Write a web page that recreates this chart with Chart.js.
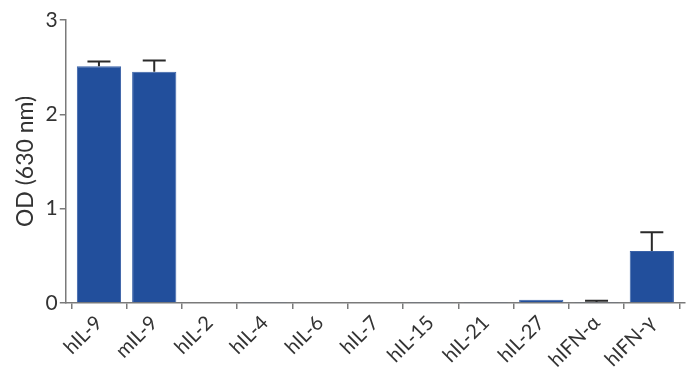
<!DOCTYPE html>
<html lang="en">
<head>
<meta charset="UTF-8">
<title>OD (630 nm)</title>
<script src="https://cdn.jsdelivr.net/npm/chart.js"></script>
<style>
    html, body { margin: 0; padding: 0; background: #fff; }
    #wrap { width: 700px; height: 378px; }
</style>
</head>
<body>
<div id="wrap"><canvas id="chart"></canvas></div>
<script>
    // data
    const categories = ['hIL-9', 'mIL-9', 'hIL-2', 'hIL-4', 'hIL-6', 'hIL-7', 'hIL-15', 'hIL-21', 'hIL-27', 'hIFN-α', 'hIFN-γ'];
    const odValues   = [2.51, 2.45, 0.0, 0.005, 0.0, 0.0, 0.005, 0.003, 0.032, 0.01, 0.55];
    const odErrors   = [0.05, 0.12, 0.0, 0.0, 0.0, 0.0, 0.0, 0.0, 0.0, 0.012, 0.2];
    const yTicks     = [0, 1, 2, 3];

    const axisGray = '#7a7a7a';
    const textCol = '#333';

    // upward error bars with cap
    const errorBars = {
        id: 'errorBars',
        afterDatasetsDraw(chart) {
            const ctx = chart.ctx;
            const xs = chart.scales.x, ys = chart.scales.y;
            ctx.save();
            ctx.strokeStyle = '#2a2a2a';
            ctx.lineWidth = 2;
            odValues.forEach((v, i) => {
                if (!odErrors[i]) return;
                const x = xs.getPixelForValue(i);
                const y0 = ys.getPixelForValue(v);
                const y1 = ys.getPixelForValue(v + odErrors[i]);
                ctx.beginPath();
                ctx.moveTo(x, y0);
                ctx.lineTo(x, y1);
                ctx.moveTo(x - 11.5, y1);
                ctx.lineTo(x + 11.5, y1);
                ctx.stroke();
            });
            ctx.restore();
        }
    };

    new Chart(document.getElementById('chart'), {
        type: 'bar',
        data: {
            datasets: [{
                data: odValues.map((v, i) => ({ x: i, y: v })),
                backgroundColor: '#224f9c',
                borderColor: '#3a62a8',
                borderWidth: 1,
                barPercentage: 0.8,
                categoryPercentage: 1.0
            }]
        },
        options: {
            responsive: true,
            maintainAspectRatio: false,
            animation: false,
            layout: { padding: { top: 20, right: 15, left: 12, bottom: 4 } },
            plugins: { legend: { display: false }, tooltip: { enabled: false } },
            scales: {
                x: {
                    type: 'linear',
                    min: -0.6,
                    max: 10.6,
                    offset: false,
                    afterBuildTicks: axis => { axis.ticks = categories.map((c, i) => ({ value: i })); },
                    // force the 45 degree slant of the labels
                    afterCalculateLabelRotation: axis => { axis.labelRotation = 45; },
                    ticks: {
                        callback: v => categories[v],
                        autoSkip: false,
                        color: textCol,
                        font: { family: 'Lato', size: 20 },
                        padding: 2
                    },
                    grid: { drawOnChartArea: false, drawTicks: true, tickLength: 6, color: axisGray, lineWidth: 1.5 },
                    border: { color: axisGray, width: 1.5 }
                },
                y: {
                    min: 0,
                    max: 3,
                    afterBuildTicks: axis => { axis.ticks = yTicks.map(v => ({ value: v })); },
                    ticks: {
                        color: textCol,
                        font: { family: 'Lato', size: 21 },
                        padding: 2
                    },
                    grid: { drawOnChartArea: false, drawTicks: true, tickLength: 6, color: axisGray, lineWidth: 1.5 },
                    border: { color: axisGray, width: 1.5 },
                    title: {
                        display: true,
                        text: 'OD (630 nm)',
                        color: textCol,
                        font: { family: 'Lato', size: 23 },
                        padding: { top: 0, bottom: 4 }
                    }
                }
            }
        },
        plugins: [errorBars]
    });
</script>
</body>
</html>
